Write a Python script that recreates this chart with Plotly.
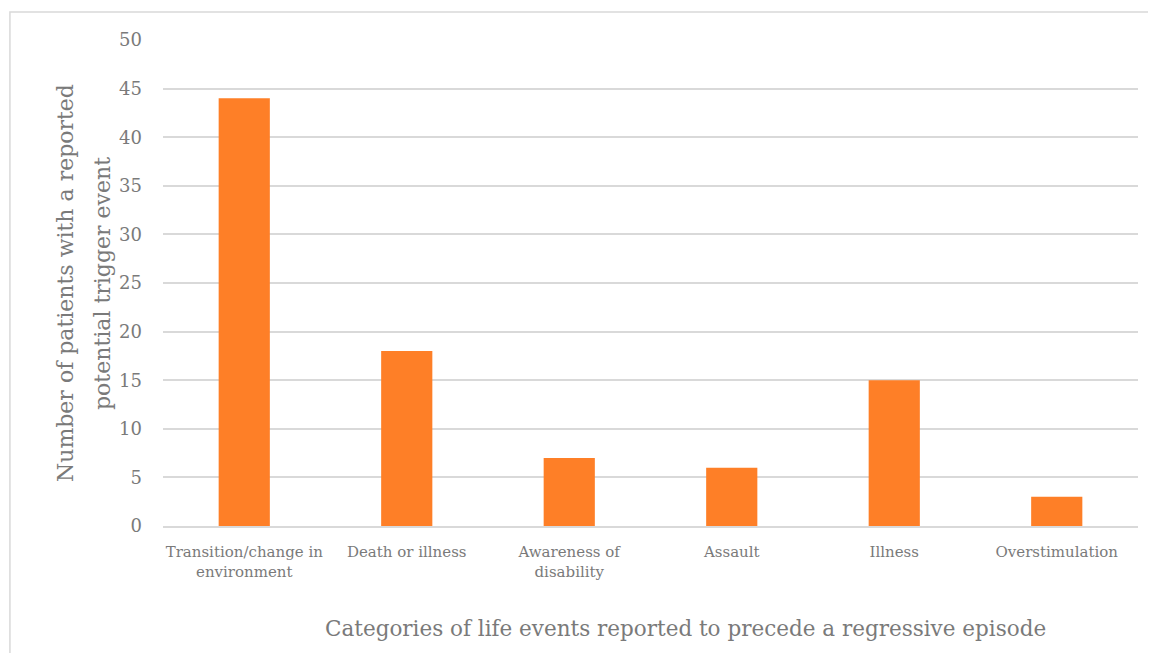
import plotly.graph_objects as go

categories = ["Transition/change in<br>environment", "Death or illness", "Awareness of<br>disability",
              "Assault", "Illness", "Overstimulation"]
values = [44, 18, 7, 6, 15, 3]
y_ticks = [0, 5, 10, 15, 20, 25, 30, 35, 40, 45, 50]
y_title_lines = ["Number of patients with a reported", "potential trigger event"]
x_title = "Categories of life events reported to precede a regressive episode"

FONT = "DejaVu Serif"
GRAY = "#7A7A7A"

fig = go.Figure(go.Bar(x=categories, y=values, marker=dict(color="#FE7F27", line=dict(width=0)), width=0.315))

fig.update_layout(
    width=1156, height=653,
    margin=dict(l=155, r=26, t=32, b=135),
    paper_bgcolor="white", plot_bgcolor="white",
    font=dict(family=FONT, color=GRAY),
    showlegend=False,
    xaxis=dict(
        showgrid=False, showline=True, linecolor="#D9D9D9", linewidth=2,
        tickfont=dict(size=15, color=GRAY), ticks="", ticklabelstandoff=11,
    ),
    yaxis=dict(
        range=[0, 50], tickvals=y_ticks, showgrid=True, gridcolor="#D9D9D9", gridwidth=1.5,
        zeroline=False, showline=False, ticks="",
        tickfont=dict(size=18, color=GRAY), ticklabelstandoff=20,
    ),
    shapes=[dict(type="rect", xref="paper", yref="paper", x0=-0.157, x1=1.05, y0=-0.4, y1=1.0576,
                 line=dict(color="#D9D9D9", width=1.5), fillcolor="rgba(0,0,0,0)", layer="below")],
)

for xpos, line in zip([-0.1005, -0.0626], y_title_lines):
    fig.add_annotation(text=line, xref="paper", yref="paper", x=xpos, y=0.5, textangle=-90,
                       xanchor="center", yanchor="middle", showarrow=False,
                       font=dict(family=FONT, size=22, color=GRAY))

fig.add_annotation(text=x_title, xref="paper", yref="paper", x=0.5364, y=-0.2099,
                   xanchor="center", yanchor="middle", showarrow=False,
                   font=dict(family=FONT, size=21.5, color=GRAY))

fig.write_html("out.html")
